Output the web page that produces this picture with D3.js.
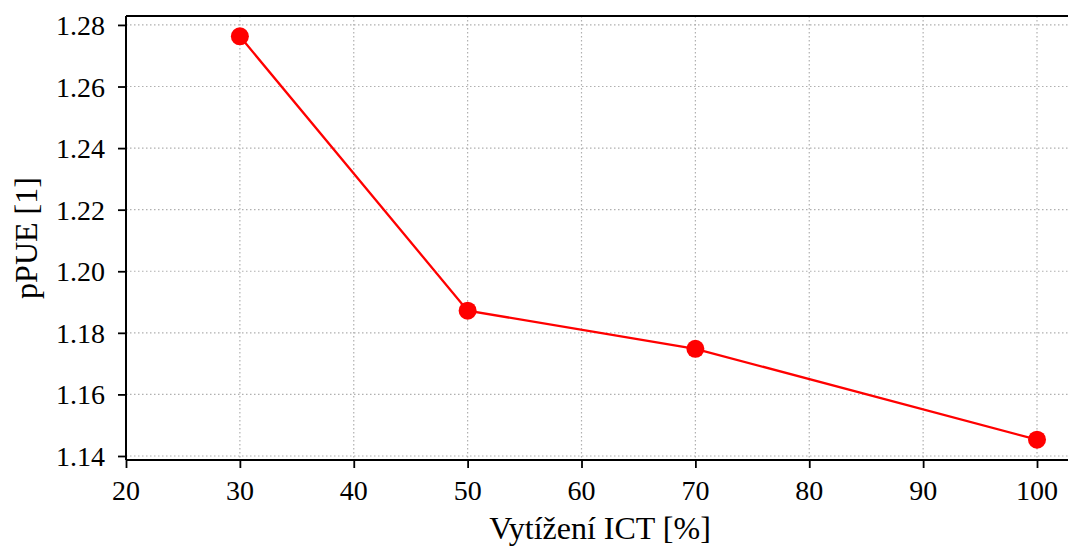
<!DOCTYPE html>
<html>
<head>
<meta charset="utf-8">
<script src="https://cdn.jsdelivr.net/npm/d3@7"></script>
<style>
  html, body { margin: 0; padding: 0; background: #fff; }
  svg { display: block; }
</style>
</head>
<body>
<svg id="chart" width="1068" height="547"></svg>
<script>
// ICT load (%) and the resulting partial PUE
const loads = [30, 50, 70, 100];
const ppue = [1.2763, 1.1872, 1.1748, 1.1453];
const xTicks = [20, 30, 40, 50, 60, 70, 80, 90, 100];
const yTicks = [1.14, 1.16, 1.18, 1.20, 1.22, 1.24, 1.26, 1.28];
const xTitle = "Vytížení ICT [%]";
const yTitle = "pPUE [1]";

const W = 1068, H = 547;
const m = { left: 126, right: -10, top: 16, bottom: 87 };
const SERIF = "'Liberation Serif', 'Times New Roman', serif";
const svg = d3.select("#chart");

const x = d3.scaleLinear().domain([20, 103.6]).range([m.left, W - m.right]);
const y = d3.scaleLinear().domain([1.1387, 1.2829]).range([H - m.bottom, m.top]);

const plot = svg.append("g");

// dotted grid
plot.append("g").selectAll("line").data(xTicks).join("line")
  .attr("x1", d => x(d)).attr("x2", d => x(d))
  .attr("y1", m.top).attr("y2", H - m.bottom)
  .attr("stroke", "#b0b0b0").attr("stroke-width", 1.2).attr("stroke-dasharray", "1.5,2.5");
plot.append("g").selectAll("line").data(yTicks).join("line")
  .attr("x1", m.left).attr("x2", W)
  .attr("y1", d => y(d)).attr("y2", d => y(d))
  .attr("stroke", "#b0b0b0").attr("stroke-width", 1.2).attr("stroke-dasharray", "1.5,2.5");

// series
const line = d3.line().x((d, i) => x(loads[i])).y(d => y(d));
plot.append("path").datum(ppue)
  .attr("d", line).attr("fill", "none").attr("stroke", "#ff0000").attr("stroke-width", 2.3);
plot.append("g").selectAll("circle").data(ppue).join("circle")
  .attr("cx", (d, i) => x(loads[i])).attr("cy", d => y(d)).attr("r", 9)
  .attr("fill", "#ff0000");

// axes: tick marks from d3.axis, labels drawn separately in serif type
const xAxis = d3.axisBottom(x).tickValues(xTicks).tickSize(8).tickFormat("");
const yAxis = d3.axisLeft(y).tickValues(yTicks).tickSize(8).tickFormat("");
const gx = svg.append("g").attr("transform", `translate(0,${H - m.bottom})`).call(xAxis);
const gy = svg.append("g").attr("transform", `translate(${m.left},0)`).call(yAxis);
[gx, gy].forEach(g => {
  g.select(".domain").remove();
  g.selectAll(".tick text").remove();
  g.selectAll(".tick line").attr("stroke", "#000").attr("stroke-width", 1.8);
});

const fx = d3.format("d"), fy = d3.format(".2f");
svg.append("g").selectAll("text").data(xTicks).join("text")
  .attr("x", d => x(d)).attr("y", H - m.bottom + 40)
  .attr("text-anchor", "middle")
  .attr("font-family", SERIF).attr("font-size", 28).attr("fill", "#000")
  .text(d => fx(d));
svg.append("g").selectAll("text").data(yTicks).join("text")
  .attr("x", m.left - 21).attr("y", d => y(d) + 10)
  .attr("text-anchor", "end")
  .attr("font-family", SERIF).attr("font-size", 28).attr("fill", "#000")
  .text(d => fy(d));

// frame: left, top, bottom spines
svg.append("line").attr("x1", m.left).attr("x2", W).attr("y1", m.top).attr("y2", m.top)
  .attr("stroke", "#000").attr("stroke-width", 2);
svg.append("line").attr("x1", m.left).attr("x2", W).attr("y1", H - m.bottom).attr("y2", H - m.bottom)
  .attr("stroke", "#000").attr("stroke-width", 2);
svg.append("line").attr("x1", m.left).attr("x2", m.left).attr("y1", m.top).attr("y2", H - m.bottom)
  .attr("stroke", "#000").attr("stroke-width", 2);

// titles
svg.append("text").attr("x", 600).attr("y", 539)
  .attr("text-anchor", "middle").attr("font-family", SERIF).attr("font-size", 32).text(xTitle);
svg.append("text").attr("transform", `translate(37,${(m.top + H - m.bottom) / 2}) rotate(-90)`)
  .attr("text-anchor", "middle").attr("font-family", SERIF).attr("font-size", 32).text(yTitle);
</script>
</body>
</html>
